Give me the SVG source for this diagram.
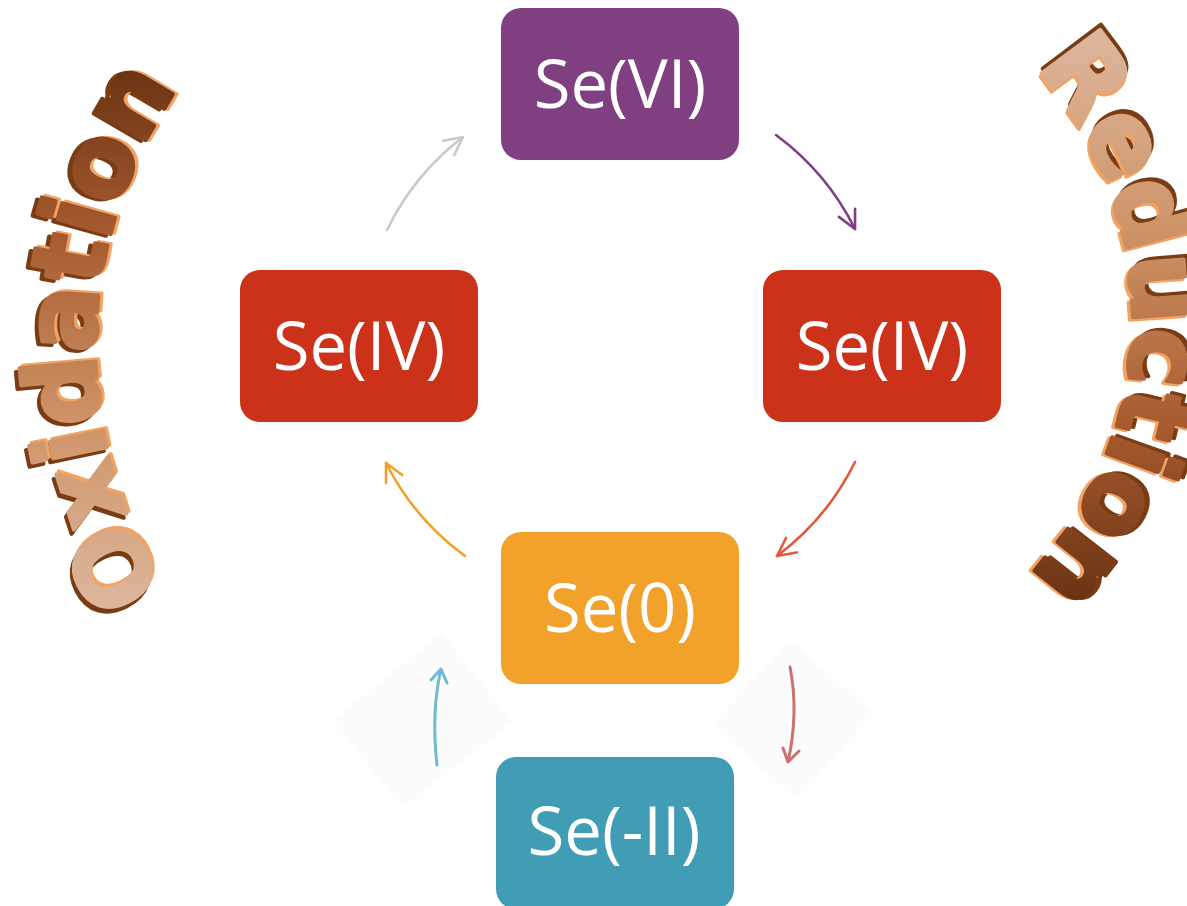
<svg xmlns="http://www.w3.org/2000/svg" width="1187" height="906" viewBox="0 0 1187 906">
<style>
.box{stroke:none}
.lbl{font-family:"Open Sans","Noto Sans","DejaVu Sans",sans-serif;font-size:67px;fill:#fff;text-anchor:middle}
.conn{fill:none;stroke-width:2.6;stroke-linecap:round}
.wa{font-family:"DejaVu Sans",sans-serif;font-weight:bold;font-size:100px;stroke-width:4;stroke-linejoin:round;text-anchor:middle}
.dark{fill:#7A3C14;stroke:#7A3C14}
.light{fill:#F2A261;stroke:#F2A261}
</style>
<defs>
<marker id="mGray" markerUnits="userSpaceOnUse" orient="auto" markerWidth="40" markerHeight="40" overflow="visible"><path d="M-18,-9 L0,0 L-18,9" fill="none" stroke="#C9C9C9" stroke-width="2.6" stroke-linecap="round" stroke-linejoin="round"/></marker>
<marker id="mPurple" markerUnits="userSpaceOnUse" orient="auto" markerWidth="40" markerHeight="40" overflow="visible"><path d="M-18,-9 L0,0 L-18,9" fill="none" stroke="#7F3F80" stroke-width="2.6" stroke-linecap="round" stroke-linejoin="round"/></marker>
<marker id="mRed" markerUnits="userSpaceOnUse" orient="auto" markerWidth="40" markerHeight="40" overflow="visible"><path d="M-18,-9 L0,0 L-18,9" fill="none" stroke="#E2583E" stroke-width="2.6" stroke-linecap="round" stroke-linejoin="round"/></marker>
<marker id="mOrange" markerUnits="userSpaceOnUse" orient="auto" markerWidth="40" markerHeight="40" overflow="visible"><path d="M-18,-9 L0,0 L-18,9" fill="none" stroke="#F2A12A" stroke-width="2.6" stroke-linecap="round" stroke-linejoin="round"/></marker>
<filter id="soft" x="-20%" y="-20%" width="140%" height="140%"><feGaussianBlur stdDeviation="0.7"/></filter>
<linearGradient id="gOx" gradientUnits="userSpaceOnUse" x1="0" y1="612" x2="0" y2="68">
<stop offset="0" stop-color="#DDB79E"/><stop offset="0.35" stop-color="#CF9468"/><stop offset="0.7" stop-color="#A65A2E"/><stop offset="1" stop-color="#6A3314"/>
</linearGradient>
<linearGradient id="gRed" gradientUnits="userSpaceOnUse" x1="0" y1="28" x2="0" y2="600">
<stop offset="0" stop-color="#DDB79E"/><stop offset="0.35" stop-color="#CF9468"/><stop offset="0.7" stop-color="#A65A2E"/><stop offset="1" stop-color="#6A3314"/>
</linearGradient>
<path id="arcOx" d="M322.5,740.3 A453,453 0 0 1 322.5,-44.3"/>
<path id="arcRed" d="M946,-4.2 A372,372 0 0 1 946,640.2"/>
</defs>
<rect width="1187" height="906" fill="#fff"/>

<g id="wordart-oxidation">
<text class="wa dark"><textPath href="#arcOx" startOffset="51.2%" textLength="530" lengthAdjust="spacingAndGlyphs"><tspan dx="-3" dy="-4">Oxidation</tspan></textPath></text>
<text class="wa light"><textPath href="#arcOx" startOffset="51.2%" textLength="530" lengthAdjust="spacingAndGlyphs"><tspan dx="2" dy="3">Oxidation</tspan></textPath></text>
<text class="wa" fill="url(#gOx)" stroke="url(#gOx)"><textPath href="#arcOx" startOffset="51.2%" textLength="530" lengthAdjust="spacingAndGlyphs">Oxidation</textPath></text>
</g>

<g id="wordart-reduction">
<text class="wa dark"><textPath href="#arcRed" startOffset="50.6%" textLength="560" lengthAdjust="spacingAndGlyphs"><tspan dx="-3" dy="-4">Reduction</tspan></textPath></text>
<text class="wa light"><textPath href="#arcRed" startOffset="50.6%" textLength="560" lengthAdjust="spacingAndGlyphs"><tspan dx="2" dy="3">Reduction</tspan></textPath></text>
<text class="wa" fill="url(#gRed)" stroke="url(#gRed)"><textPath href="#arcRed" startOffset="50.6%" textLength="560" lengthAdjust="spacingAndGlyphs">Reduction</textPath></text>
</g>

<g id="bg-shapes">
<polygon points="442,633 513,722 402,808 333,720" fill="#FCFCFC"/>
<polygon points="790,640 873,713 797,800 712,725" fill="#FCFCFC"/>
</g>

<g id="connectors">
<path class="conn" stroke="#C9C9C9" d="M387,230 A261,261 0 0 1 463,137" marker-end="url(#mGray)"/>
<path class="conn" stroke="#7F3F80" d="M776,135 A261,261 0 0 1 855,229" marker-end="url(#mPurple)"/>
<path class="conn" stroke="#E2583E" d="M855,462 A261,261 0 0 1 777,556" marker-end="url(#mRed)"/>
<path class="conn" stroke="#F2A12A" d="M465,556 A261,261 0 0 1 386,463" marker-end="url(#mOrange)"/>
<g filter="url(#soft)" opacity="0.8">
<path d="M437,765 Q431,712 441,669 M431,680 L441,669 L447,683" fill="none" stroke="#4FAACB" stroke-width="3" stroke-linecap="round" stroke-linejoin="round"/>
<path d="M790,667 Q799,712 788,762 M783,748 L788,762 L799,751" fill="none" stroke="#C0504D" stroke-width="3" stroke-linecap="round" stroke-linejoin="round"/>
</g>
</g>

<g id="node-se6">
<rect class="box" x="501" y="8" width="238" height="152" rx="20" fill="#7F3F80"/>
<text class="lbl" x="620" y="108">Se(VI)</text>
</g>
<g id="node-se4-left">
<rect class="box" x="240" y="270" width="238" height="152" rx="20" fill="#CC3119"/>
<text class="lbl" x="359" y="370">Se(IV)</text>
</g>
<g id="node-se4-right">
<rect class="box" x="763" y="270" width="238" height="152" rx="20" fill="#CC3119"/>
<text class="lbl" x="882" y="370">Se(IV)</text>
</g>
<g id="node-se0">
<rect class="box" x="501" y="532" width="238" height="152" rx="20" fill="#F2A12A"/>
<text class="lbl" x="620" y="632">Se(0)</text>
</g>
<g id="node-se-2">
<rect class="box" x="496" y="757" width="238" height="152" rx="20" fill="#419CB5"/>
<text class="lbl" x="614" y="855">Se(-II)</text>
</g>
</svg>
